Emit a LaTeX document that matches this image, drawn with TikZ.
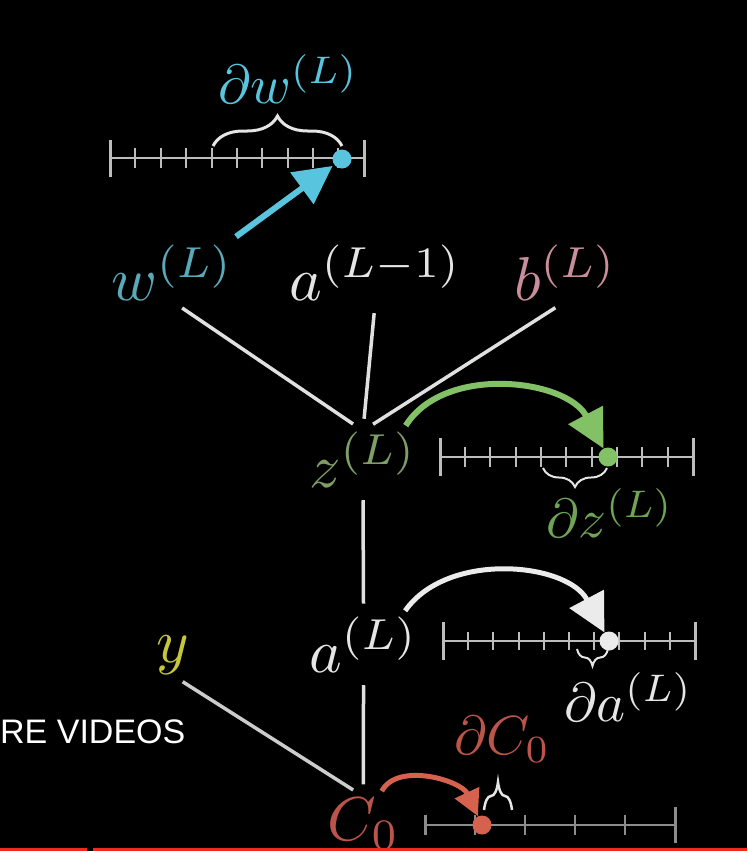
\documentclass[tikz,border=0pt]{standalone}
\usepackage{fontspec}
\usepackage{amsmath}
\usetikzlibrary{arrows.meta,decorations.pathreplacing}
\newfontfamily\ytfont{Liberation Sans}
\definecolor{wblue}{HTML}{58C4DD}
\definecolor{wtext}{HTML}{5AA9B8}
\definecolor{zgreen}{HTML}{83C167}
\definecolor{ztext}{HTML}{7E9E68}
\definecolor{bpink}{HTML}{C98D9B}
\definecolor{yyellow}{HTML}{C4C63C}
\definecolor{cred}{HTML}{D5614F}
\definecolor{ctext}{HTML}{BB5449}
\definecolor{ytred}{HTML}{EE2A1E}
\definecolor{linegray}{HTML}{BDBDBD}
\definecolor{dimgray}{HTML}{8C8C8C}

\begin{document}
\begin{tikzpicture}[x = 1pt, y = -1pt,
    txt/.style = {anchor = base west, inner sep = 0pt, scale = 6.2},
    dtxt/.style = {anchor = base west, inner sep = 0pt, scale = 5.5},
    link/.style = {draw = white!88!black, line width = 3.5pt, shorten <= 12pt, shorten >= 12pt},
    numline/.style = {draw = linegray, line width = 2.5pt},
    endtick/.style = {draw = linegray, line width = 3pt},
    minortick/.style = {draw = linegray, line width = 2pt},
    valdot/.style = {circle, inner sep = 0pt, minimum size = 19pt},
    jump/.style = {line width = 6pt, -{Triangle[length = 38pt, width = 38pt]}},
    bracebox/.style = {decorate, decoration = {brace, amplitude = #1}, line width = 3pt, draw = white!90!black}]
      \fill[black] (0,0) rectangle (747,851);
      \useasboundingbox (0,0) rectangle (747,851);
      % place nodes
      \node (dw) [dtxt, wblue] at (217,103) {$\partial w^{(L)}$};
      \node (w) [txt, wtext] at (110,300) {$w^{(L)}$};
      \node (ap) [txt, white!90!black] at (288,300) {$a^{(L-1)}$};
      \node (b) [txt, bpink] at (513,300) {$b^{(L)}$};
      \node (z) [txt, ztext] at (308,487) {$z^{(L)}$};
      \node (dz) [dtxt, zgreen!85!black] at (545,537) {$\partial z^{(L)}$};
      \node (a) [txt, white!90!black] at (308,672) {$a^{(L)}$};
      \node (da) [dtxt, white!90!black] at (563,721) {$\partial a^{(L)}$};
      \node (y) [txt, yyellow] at (155,662) {$y$};
      \node (c) [txt, ctext] at (326,840) {$C_0$};
      \node (dc) [dtxt, ctext] at (453,754) {$\partial C_0$};
      \node (more) [anchor = base west, inner sep = 0pt, white, font = \ytfont\fontsize{34}{40}\selectfont] at (0,743) {RE VIDEOS};
      % number lines
      \draw[numline] (110,158) -- (364,158);
      \draw[endtick] (110,140) -- (110,177) (364,140) -- (364,177);
      \draw[minortick] (135,148) -- (135,168) (161,148) -- (161,168) (186,148) -- (186,168)
        (212,148) -- (212,168) (237,148) -- (237,168) (262,148) -- (262,168)
        (288,148) -- (288,168) (313,148) -- (313,168) (338,148) -- (338,168);

      \draw[numline] (440,457) -- (693,457);
      \draw[endtick] (440,438) -- (440,476) (693,438) -- (693,476);
      \draw[minortick] (465,447) -- (465,467) (490,447) -- (490,467) (516,447) -- (516,467)
        (541,447) -- (541,467) (566,447) -- (566,467) (592,447) -- (592,467)
        (617,447) -- (617,467) (642,447) -- (642,467) (668,447) -- (668,467);

      \draw[numline] (443,641) -- (695,641);
      \draw[endtick] (443,622) -- (443,660) (695,622) -- (695,660);
      \draw[minortick] (468,632) -- (468,650) (493,632) -- (493,650) (519,632) -- (519,650)
        (544,632) -- (544,650) (569,632) -- (569,650) (594,632) -- (594,650)
        (619,632) -- (619,650) (645,632) -- (645,650) (670,632) -- (670,650);

      \draw[numline, dimgray] (425,825) -- (675,825);
      \draw[endtick, dimgray] (425,815) -- (425,835) (675,807) -- (675,843);
      \draw[minortick, dimgray] (475,815) -- (475,835) (525,815) -- (525,835)
        (575,815) -- (575,835) (625,815) -- (625,835);
      % values
      \node (wdot) [valdot, fill = wblue] at (342,159) {};
      \node (zdot) [valdot, fill = zgreen] at (608,457) {};
      \node (adot) [valdot, fill = white!92!black] at (609,641) {};
      \node (cdot) [valdot, fill = cred] at (482,825) {};
      % braces
      \draw[bracebox = 30pt] (213,146) -- (342,146);
      \draw[bracebox = 19pt, line width = 2pt] (607,468) -- (543,468);
      \draw[bracebox = 17pt, line width = 2pt] (608,649) -- (577,649);
      \draw[bracebox = 28pt, line width = 2.5pt] (484,810) -- (512,810);
      % draw edges
      \draw[link] (w.south) -- (z.north);
      \draw[link] (ap.south) -- (z.north);
      \draw[link] (b.south) -- (z.north);
      \draw[link] (z.south) -- (a.north);
      \draw[link] (a.south) -- (c.north);
      \draw[link, white!80!black] (y.south) -- (c.north);
      % nudges
      \draw[jump, wblue, shorten <= 12pt, shorten >= 2pt] (w.28) -- (wdot);
      \draw[jump, zgreen, shorten <= 6pt] (z.36) to[out = 58, in = 118] (zdot);
      \draw[jump, white!92!black, line width = 5pt, shorten <= 6pt] (a.37) to[out = 55, in = 118] (adot);
      \draw[jump, cred, line width = 5pt, -{Triangle[length = 26pt, width = 26pt]}, shorten <= 6pt] (c.60) to[out = 62, in = 115] (cdot);
      % progress bar
      \fill[ytred] (0,848) rectangle (87,851);
      \fill[ytred] (93,848) rectangle (747,851);
    \end{tikzpicture}
\end{document}
